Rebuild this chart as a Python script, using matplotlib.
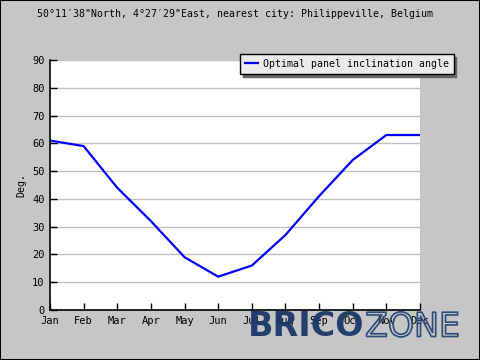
import matplotlib.pyplot as plt
from matplotlib.patches import Rectangle
import matplotlib.patheffects as pe

months = ["Jan", "Feb", "Mar", "Apr", "May", "Jun", "Jul", "Aug", "Sep", "Oct", "Nov", "Dec"]
angle = [61, 59, 44, 32, 19, 12, 16, 27, 41, 54, 63, 63]
yticks = [0, 10, 20, 30, 40, 50, 60, 70, 80, 90]

plt.rcParams['font.family'] = ['DejaVu Sans Mono']
bg = '#c6c6c6'
fs = 7.1

fig = plt.figure(figsize=(4.8, 3.6), dpi=100, facecolor=bg)
ax = fig.add_axes([50/480, 50/360, 370/480, 250/360])
ax.set_facecolor('white')

x = list(range(len(months)))
ax.plot(x, angle, color='#0000ff', lw=1.6, label='Optimal panel inclination angle')

ax.set_xlim(0, 11)
ax.set_ylim(0, 90)
ax.set_xticks(x)
ax.set_xticklabels(months)
ax.set_yticks(yticks)
ax.tick_params(direction='in', length=5, width=1, labelsize=fs + 0.4, colors='black', pad=4)
ax.yaxis.grid(True, color='#c0c0c0', lw=1)
ax.set_axisbelow(True)
for s in ['top', 'right']:
    ax.spines[s].set_visible(False)
for s in ['left', 'bottom']:
    ax.spines[s].set_linewidth(1.2)
ax.set_ylabel('Deg.', fontsize=fs, labelpad=4)

fig.text(37/480, 1 - 14/360, '50°11′38"North, 4°27′29"East, nearest city: Philippeville, Belgium',
         fontsize=fs, va='center', ha='left')

leg = ax.legend(loc='upper left', bbox_to_anchor=(240/480, 1 - 54/360), bbox_transform=fig.transFigure,
                fancybox=False, shadow={'color': '#666666', 'alpha': 1}, framealpha=1, fontsize=fs,
                handlelength=1.3, handletextpad=0.5, borderpad=0.5, borderaxespad=0)
leg.get_frame().set_facecolor('#ebebeb')
leg.get_frame().set_edgecolor('black')

# outer frame
fig.patches.append(Rectangle((0, 0), 1, 1, transform=fig.transFigure, fill=False,
                             edgecolor='black', lw=1.5))

# watermark
fig.text(248/480, 1 - 327/360, 'BRICO', fontsize=24, fontweight='bold', color='#1c3868',
         family='DejaVu Sans', va='center', ha='left', alpha=0.95)
t = fig.text(365/480, 1 - 327/360, 'ZONE', fontsize=24, color='none', family='DejaVu Sans',
             va='center', ha='left')
t.set_path_effects([pe.withStroke(linewidth=1.2, foreground='#2c4a7a')])

fig.savefig('out.png', dpi=100, facecolor=bg)
